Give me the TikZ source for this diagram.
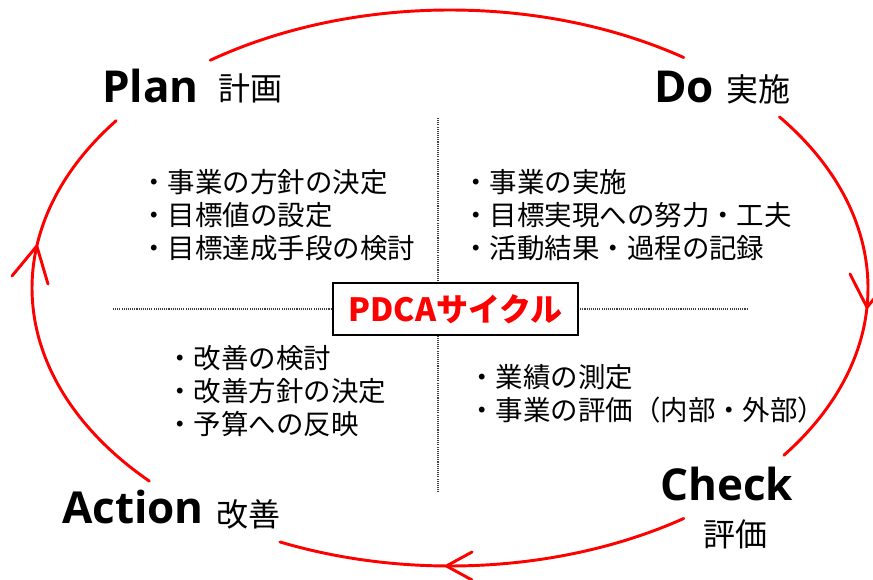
\documentclass[tikz,border=0pt]{standalone}
\usepackage{fontspec}
\setmainfont{Open Sans}
\newfontfamily\jp{Noto Sans CJK JP}
\definecolor{cycred}{HTML}{FF0000}
\begin{document}
\begin{tikzpicture}[x=0.75pt,y=-0.75pt,
  cyc/.style={draw=cycred, line width=2.2pt, line cap=round, line join=round},
  phase/.style={inner sep=0pt, anchor=base west, font=\fontsize{33pt}{36pt}\selectfont\bfseries},
  phasejp/.style={inner sep=0pt, anchor=base west, font=\jp\fontsize{24pt}{26pt}\selectfont},
  items/.style={inner sep=0pt, anchor=west, align=left, font=\jp\fontsize{20.6pt}{24.5pt}\selectfont},
  guide/.style={draw=black!75, line width=0.8pt, dash pattern=on 0.8pt off 0.8pt},
  titlebox/.style={draw=black, line width=1pt, fill=white, minimum width=183.75pt, minimum height=39pt, inner sep=0pt,
    text=cycred, font=\jp\bfseries\fontsize{24pt}{26pt}\selectfont}
]
\useasboundingbox (0,0) rectangle (873,580);

% guide lines
\coordinate (hl) at (113,309);
\coordinate (hr) at (748,309);
\coordinate (vt) at (438,118);
\coordinate (vb) at (438,493);
\draw[guide] (hl) -- (hr);
\draw[guide] (vt) -- (vb);
\node[titlebox] (title) at (455.5,309) {PDCAサイクル};

% cycle ellipse segments
\draw[cyc] plot[domain=235:304, samples=60, smooth] ({450+418*cos(\x)},{288+278*sin(\x)});
\draw[cyc] plot[domain=322:397, samples=60, smooth] ({450+418*cos(\x)},{288+278*sin(\x)});
\draw[cyc] plot[domain=56:114, samples=60, smooth] ({450+418*cos(\x)},{288+278*sin(\x)});
\draw[cyc] plot[domain=136:217, samples=60, smooth] ({450+418*cos(\x)},{288+278*sin(\x)});

% arrowheads
\coordinate (tipL) at (36.8,246);
\coordinate (tipR) at (867,307.4);
\coordinate (tipB) at (446.4,566);
\draw[cyc] (12,276) -- (tipL) -- (48,284);
\draw[cyc] (850,274) -- (tipR) -- (890,279);
\draw[cyc] (472,552) -- (tipB) -- (472,580);

% phase labels
\node[phase] (plan) at (102,103) {Plan};
\node[phasejp] (planjp) at (218,101) {計画};
\node[phase] (do) at (654,103) {Do};
\node[phasejp] (dojp) at (726,102) {実施};
\node[phase] (check) at (660,500) {Check};
\node[phasejp] (checkjp) at (703,546) {評価};
\node[phase] (action) at (62,523) {Action};
\node[phasejp] (actionjp) at (216,526) {改善};

% quadrant items
\node[items] (planitems) at (140,215) {・事業の方針の決定\\・目標値の設定\\・目標達成手段の検討};
\node[items] (doitems) at (462,215) {・事業の実施\\・目標実現への努力・工夫\\・活動結果・過程の記録};
\node[items] (actitems) at (166,391) {・改善の検討\\・改善方針の決定\\・予算への反映};
\node[items] (chkitems) at (468,394) {・業績の測定\\・事業の評価（内部・外部）};
\end{tikzpicture}
\end{document}
